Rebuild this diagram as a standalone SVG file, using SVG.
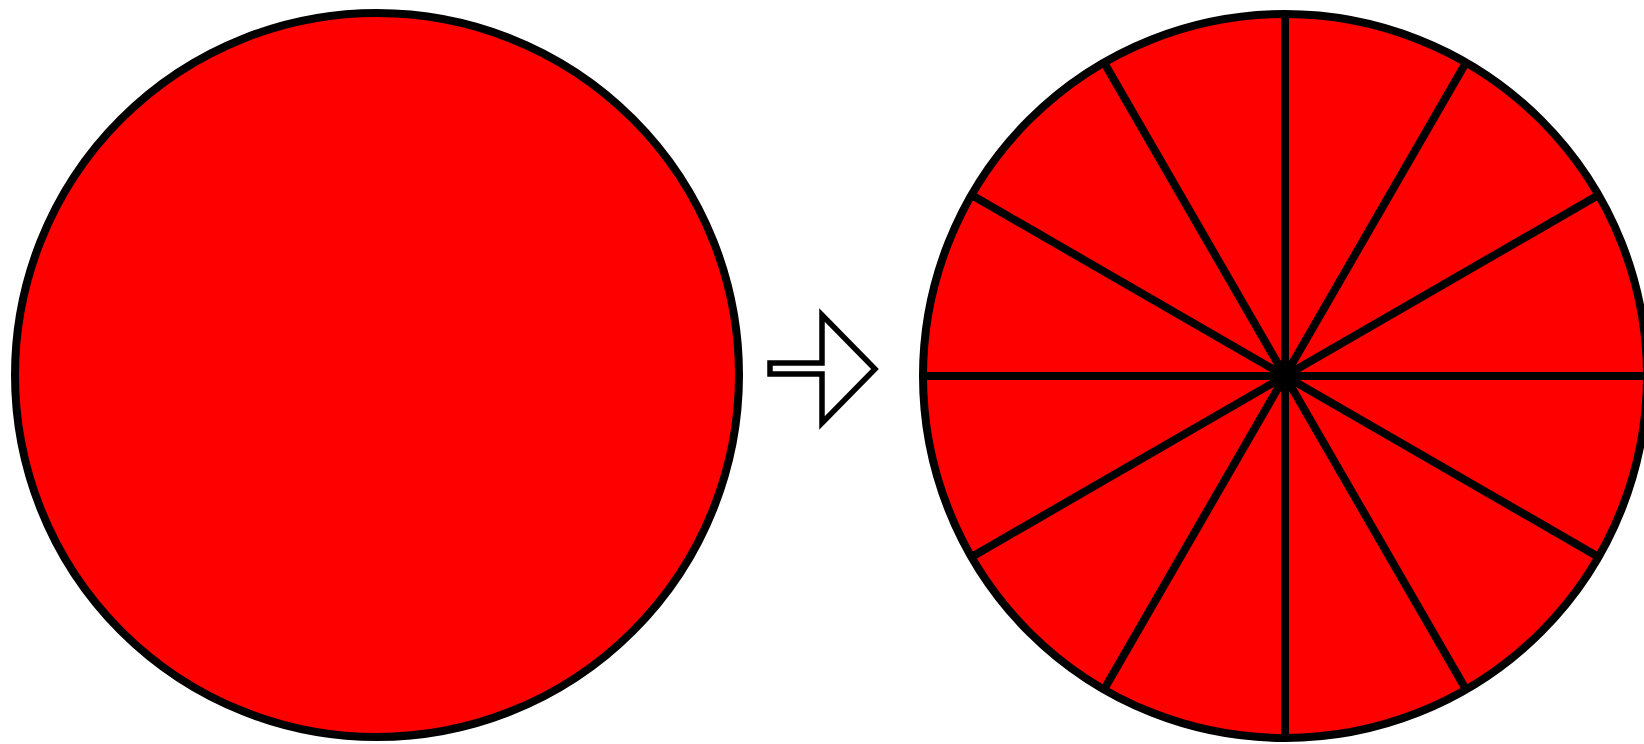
<svg xmlns="http://www.w3.org/2000/svg" width="1644" height="744" viewBox="0 0 1644 744">
<style>
.disc{fill:#ff0000;stroke:#000;stroke-width:8}
.spoke{stroke:#000;stroke-width:8;stroke-linecap:butt}
.arrow{fill:#fff;stroke:#000;stroke-width:5.5;stroke-linejoin:miter}
</style>
<rect width="1644" height="744" fill="#fff"/>
<g id="whole">
<circle class="disc" cx="377" cy="375" r="362"/>
</g>
<g id="arrow">
<polygon class="arrow" points="770,363 822,363 822,315 875,369 822,423 822,374 770,374"/>
</g>
<g id="divided">
<circle class="disc" cx="1285" cy="376" r="362"/>
<g class="spokes">
<line class="spoke" x1="924" y1="376" x2="1648" y2="376"/>
<line class="spoke" x1="1285" y1="14" x2="1285" y2="738"/>
<line class="spoke" x1="971.5" y1="195" x2="1598.5" y2="557"/>
<line class="spoke" x1="971.5" y1="557" x2="1598.5" y2="195"/>
<line class="spoke" x1="1104" y1="62.5" x2="1466" y2="689.5"/>
<line class="spoke" x1="1104" y1="689.5" x2="1466" y2="62.5"/>
</g>
<circle cx="1285" cy="376" r="13" fill="#000"/>
</g>
</svg>
